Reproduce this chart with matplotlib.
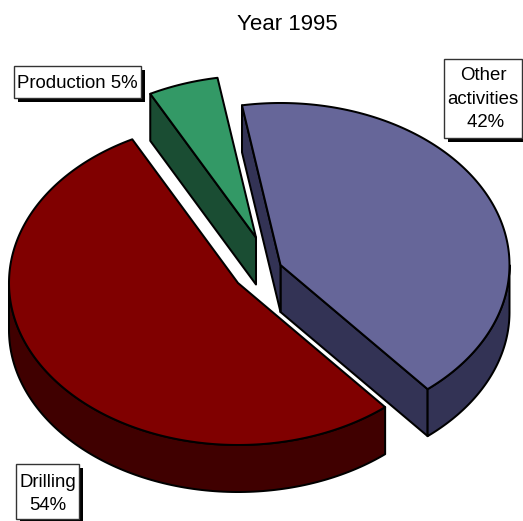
import numpy as np
import matplotlib
matplotlib.use("Agg")
import matplotlib.pyplot as plt
from matplotlib.patches import Polygon, Rectangle

plt.rcParams['font.family'] = ['Liberation Sans', 'DejaVu Sans']

# Data
categories = ['Drilling', 'Other activities', 'Production']
values = [54, 42, 5]
box_text = ['Drilling\n54%', 'Other\nactivities\n 42%', 'Production 5%']

# Style
top_colors = ['#800000', '#666699', '#339966']
side_colors = ['#400000', '#333355', '#1A4D33']

# Layout, in image pixels
W, H = 523, 521
rx, ry = 229, 162
depth = 47
start_deg = 117.5
centers = [(238, 283), (280.5, 265), (256, 237.5)]
boxes = [(16, 464, 79, 519), (444, 59, 522, 138), (14, 66, 141, 98)]
text_y = [494, 99, 83]
lw = 1.45


def rim(cx, cy, t):
    return np.column_stack([cx + rx * np.cos(t), cy - ry * np.sin(t)])


def poly(ax, pts, color, z):
    ax.add_patch(Polygon(pts, closed=True, facecolor=color, edgecolor='black',
                         linewidth=lw, joinstyle='round', zorder=z))


fig = plt.figure(figsize=(W / 100, H / 100), dpi=100)
ax = fig.add_axes([0, 0, 1, 1])
ax.set_xlim(0, W)
ax.set_ylim(H, 0)
ax.axis('off')

sweeps = np.array(values) / sum(values) * 2 * np.pi
starts = np.radians(start_deg) + np.concatenate([[0], np.cumsum(sweeps)[:-1]])
down = np.array([0, depth])

# back to front: production, other, drilling
for z, i in enumerate([2, 1, 0]):
    cx, cy = centers[i]
    t0, t1 = starts[i], starts[i] + sweeps[i]
    apex = np.array([cx, cy])
    p0 = rim(cx, cy, np.array([t0]))[0]
    p1 = rim(cx, cy, np.array([t1]))[0]

    # cut faces that look towards the viewer
    if i == 1:
        poly(ax, [p0, p0 + down, apex + down, apex], side_colors[i], z * 3 + 1)
        poly(ax, [p1, p1 + down, apex + down, apex], side_colors[i], z * 3 + 1)
    if i == 2:
        poly(ax, [p1, p1 + down, apex + down, apex], side_colors[i], z * 3 + 1)

    # outer wall, the part of the rim in the lower half of the ellipse
    for a, b in [(t0, t1), (t0 - 2 * np.pi, t1 - 2 * np.pi)]:
        lo, hi = max(a, np.pi), min(b, 2 * np.pi)
        if hi > lo:
            t = np.linspace(lo, hi, 120)
            edge = rim(cx, cy, t)
            poly(ax, np.vstack([edge, edge[::-1] + down]), side_colors[i], z * 3 + 2)

    # top face
    t = np.linspace(t0, t1, 240)
    poly(ax, np.vstack([apex, rim(cx, cy, t)]), top_colors[i], z * 3 + 3)

ax.text(287, 24, 'Year 1995', ha='center', va='center', fontsize=16, color='black')

for (x0, y0, x1, y1), s, ty in zip(boxes, box_text, text_y):
    ax.add_patch(Rectangle((x0 + 4, y0 + 4), x1 - x0, y1 - y0, facecolor='black',
                           edgecolor='black', linewidth=0, zorder=30))
    ax.add_patch(Rectangle((x0, y0), x1 - x0, y1 - y0, facecolor='white',
                           edgecolor='#333333', linewidth=1.0, zorder=31))
    ax.text((x0 + x1) / 2, ty, s, ha='center', va='center', fontsize=13.4,
            linespacing=1.5, color='black', zorder=32)

fig.savefig('out.png', dpi=100)
